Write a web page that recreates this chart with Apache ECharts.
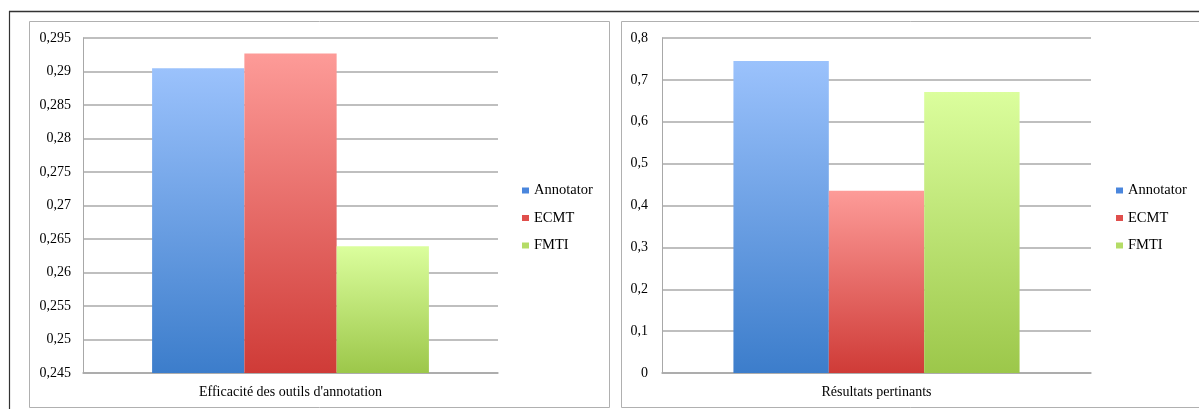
<!DOCTYPE html>
<html>
<head>
<meta charset="utf-8">
<script src="https://cdn.jsdelivr.net/npm/echarts@6/dist/echarts.min.js"></script>
<style>
html,body{margin:0;padding:0;background:#fff;}
#c{width:1199px;height:409px;}
</style>
</head>
<body>
<div id="c"></div>
<script>
const seriesNames = ['Annotator', 'ECMT', 'FMTI'];
const categoriesLeft = ["Efficacité des outils d'annotation"];
const categoriesRight = ['Résultats pertinants'];
const valuesLeft = [0.2905, 0.2927, 0.2639];
const valuesRight = [0.745, 0.435, 0.671];
const yLeftMin = 0.245, yLeftMax = 0.295, yLeftStep = 0.005;
const yRightMin = 0, yRightMax = 0.8, yRightStep = 0.1;
const topColors = ['#9bc2fc', '#fd9b98', '#dbfe9d'];
const bottomColors = ['#3c7dcb', '#cf3b37', '#9cc74a'];
const legendColors = ['#4a86dd', '#e04f4c', '#b4dc66'];

const FONT = 'Liberation Serif';
const fmt = v => parseFloat(v.toFixed(4)).toString().replace('.', ',');

function grad(i) {
  return new echarts.graphic.LinearGradient(0, 0, 0, 1, [
    { offset: 0, color: topColors[i] },
    { offset: 1, color: bottomColors[i] }
  ]);
}

function makeSeries(values, axisIndex) {
  return seriesNames.map((name, i) => ({
    type: 'bar',
    name: name,
    xAxisIndex: axisIndex,
    yAxisIndex: axisIndex,
    barGap: '0%',
    barCategoryGap: '33.3%',
    data: [values[i]],
    itemStyle: { color: grad(i) },
    emphasis: { disabled: true }
  }));
}

function yAxis(gridIndex, min, max, step, margin) {
  return {
    type: 'value', gridIndex: gridIndex, min: min, max: max, interval: step,
    axisLine: { show: true, lineStyle: { color: '#a8a8a8', width: 1 } },
    axisTick: { show: false },
    splitLine: { show: true, lineStyle: { color: '#aaaaaa', width: 1.5 } },
    axisLabel: { formatter: fmt, color: '#000', fontFamily: FONT, fontSize: 14, margin: margin }
  };
}

function xAxis(gridIndex, cats) {
  return {
    type: 'category', gridIndex: gridIndex, data: cats,
    axisLine: { show: true, lineStyle: { color: '#a8a8a8', width: 1.5 } },
    axisTick: { show: false },
    axisLabel: { color: '#000', fontFamily: FONT, fontSize: 14, margin: 12 }
  };
}

function legend(left) {
  return {
    orient: 'vertical', left: left, top: 178, padding: 5,
    itemWidth: 7, itemHeight: 6, itemGap: 12.5,
    selectedMode: false,
    textStyle: { fontFamily: FONT, fontSize: 14.5, color: '#000', lineHeight: 14 },
    data: seriesNames.map((n, i) => ({ name: n, icon: 'rect', itemStyle: { color: legendColors[i] } }))
  };
}

const chart = echarts.init(document.getElementById('c'), null, { renderer: 'canvas' });
chart.setOption({
  animation: false,
  backgroundColor: '#fff',
  grid: [
    { left: 83, top: 38, width: 415, height: 335 },
    { left: 662, top: 38, width: 429, height: 335 }
  ],
  xAxis: [xAxis(0, categoriesLeft), xAxis(1, categoriesRight)],
  yAxis: [
    yAxis(0, yLeftMin, yLeftMax, yLeftStep, 12),
    yAxis(1, yRightMin, yRightMax, yRightStep, 14)
  ],
  legend: [legend(517), legend(1111)],
  graphic: [
    { type: 'line', silent: true, shape: { x1: 9, y1: 11.5, x2: 1199, y2: 11.5 }, style: { stroke: '#333', lineWidth: 1.5 } },
    { type: 'line', silent: true, shape: { x1: 9.5, y1: 11, x2: 9.5, y2: 409 }, style: { stroke: '#333', lineWidth: 1.2 } },
    { type: 'rect', silent: true, shape: { x: 29.5, y: 21.5, width: 580, height: 386 }, style: { fill: 'none', stroke: '#b0b0b0', lineWidth: 1 } },
    { type: 'rect', silent: true, shape: { x: 621.5, y: 21.5, width: 600, height: 386 }, style: { fill: 'none', stroke: '#b0b0b0', lineWidth: 1 } }
  ],
  series: makeSeries(valuesLeft, 0).concat(makeSeries(valuesRight, 1))
});
</script>
</body>
</html>
